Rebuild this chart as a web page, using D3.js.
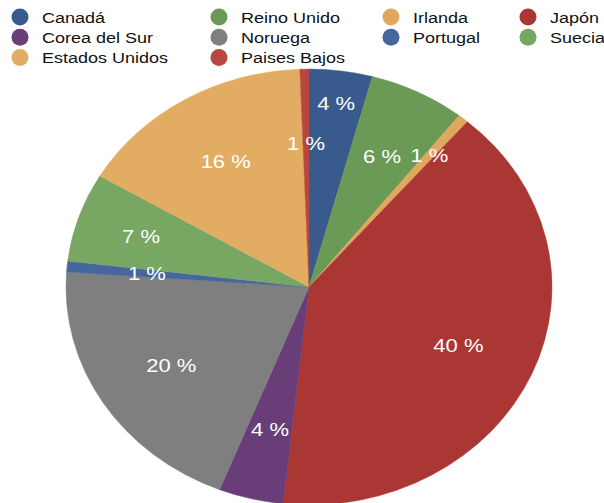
<!DOCTYPE html>
<html lang="es">
<head>
    <meta charset="UTF-8">
    <title>Pie</title>
    <script src="https://cdn.jsdelivr.net/npm/d3@7/dist/d3.min.js"></script>
    <style>
        body{
            margin: 0;
            background-color: #ffffff;
            font-family: "Liberation Sans", Arial, sans-serif;
        }
    </style>
</head>
<body>
<div id="chart"></div>
<script>
    var WIDTH = 604;
    var HEIGHT = 503;

    // data, clockwise from 12 o'clock
    var COUNTRIES = ["Canadá", "Reino Unido", "Irlanda", "Japón", "Corea del Sur",
                     "Noruega", "Portugal", "Suecia", "Estados Unidos", "Paises Bajos"];
    var SHARES = [4.2, 6.4, 0.7, 40.4, 4.3, 20.1, 0.8, 6.6, 15.9, 0.6];
    var COLORS = ["#395a8c", "#6a9a55", "#e0a85c", "#ab3735", "#693d77",
                  "#7e7f7e", "#45679e", "#78a663", "#e2ad62", "#b8483f"];

    // legend reads row by row
    var LEGEND_ORDER = ["Canadá", "Reino Unido", "Irlanda", "Japón",
                        "Corea del Sur", "Noruega", "Portugal", "Suecia",
                        "Estados Unidos", "Paises Bajos"];

    var CX = 309, CY = 287;
    var RADIUS = 243;
    var SQUASH = 0.897;       // pie is drawn slightly flattened
    var TEXT_SQUASH = 0.86;
    var LABEL_R = 0.67;
    var LABEL_R_NUDGE = {"Canadá": 0.85, "Irlanda": 0.78, "Suecia": 0.73, "Paises Bajos": 0.66};

    var LEGEND_X = [20, 219, 391, 528];
    var LEGEND_Y0 = 17, LEGEND_DY = 20.3;

    var svg = d3.select("#chart").append("svg")
        .attr("width", WIDTH)
        .attr("height", HEIGHT);

    var rows = COUNTRIES.map(function(c, i){
        return {name: c, value: SHARES[i], color: COLORS[i]};
    });

    var pie = d3.pie()
        .sort(null)
        .value(function(d){ return d.value; });

    var arcs = pie(rows);

    var arc = d3.arc().innerRadius(0).outerRadius(RADIUS);

    var pieG = svg.append("g")
        .attr("transform", "translate(" + CX + "," + CY + ") scale(1," + SQUASH + ")");

    pieG.selectAll("path")
        .data(arcs)
        .enter().append("path")
        .attr("d", arc)
        .attr("fill", function(d){ return d.data.color; })
        .attr("stroke", function(d){ return d.data.color; })
        .attr("stroke-width", 0.5);

    var total = d3.sum(SHARES);

    svg.append("g").selectAll("text")
        .data(arcs)
        .enter().append("text")
        .attr("transform", function(d){
            var f = LABEL_R_NUDGE[d.data.name] || LABEL_R;
            var a = (d.startAngle + d.endAngle) / 2;
            var x = CX + Math.sin(a) * RADIUS * f;
            var y = CY - Math.cos(a) * RADIUS * f * SQUASH;
            return "translate(" + x + "," + y + ") scale(1," + TEXT_SQUASH + ")";
        })
        .attr("text-anchor", "middle")
        .attr("dy", "0.36em")
        .style("fill", "white")
        .style("font-size", "22px")
        .text(function(d){ return Math.round(d.data.value / total * 100) + " %"; });

    var legend = svg.append("g");
    LEGEND_ORDER.forEach(function(name, i){
        var idx = COUNTRIES.indexOf(name);
        var col = i % 4, row = Math.floor(i / 4);
        var x = LEGEND_X[col];
        var y = LEGEND_Y0 + row * LEGEND_DY;
        legend.append("circle")
            .attr("cx", x)
            .attr("cy", y)
            .attr("r", 8.5)
            .style("fill", COLORS[idx]);
        legend.append("text")
            .attr("transform", "translate(" + (x + 22) + "," + y + ") scale(1," + TEXT_SQUASH + ")")
            .attr("dy", "0.36em")
            .style("fill", "#111111")
            .style("font-size", "18px")
            .text(name);
    });
</script>
</body>
</html>
